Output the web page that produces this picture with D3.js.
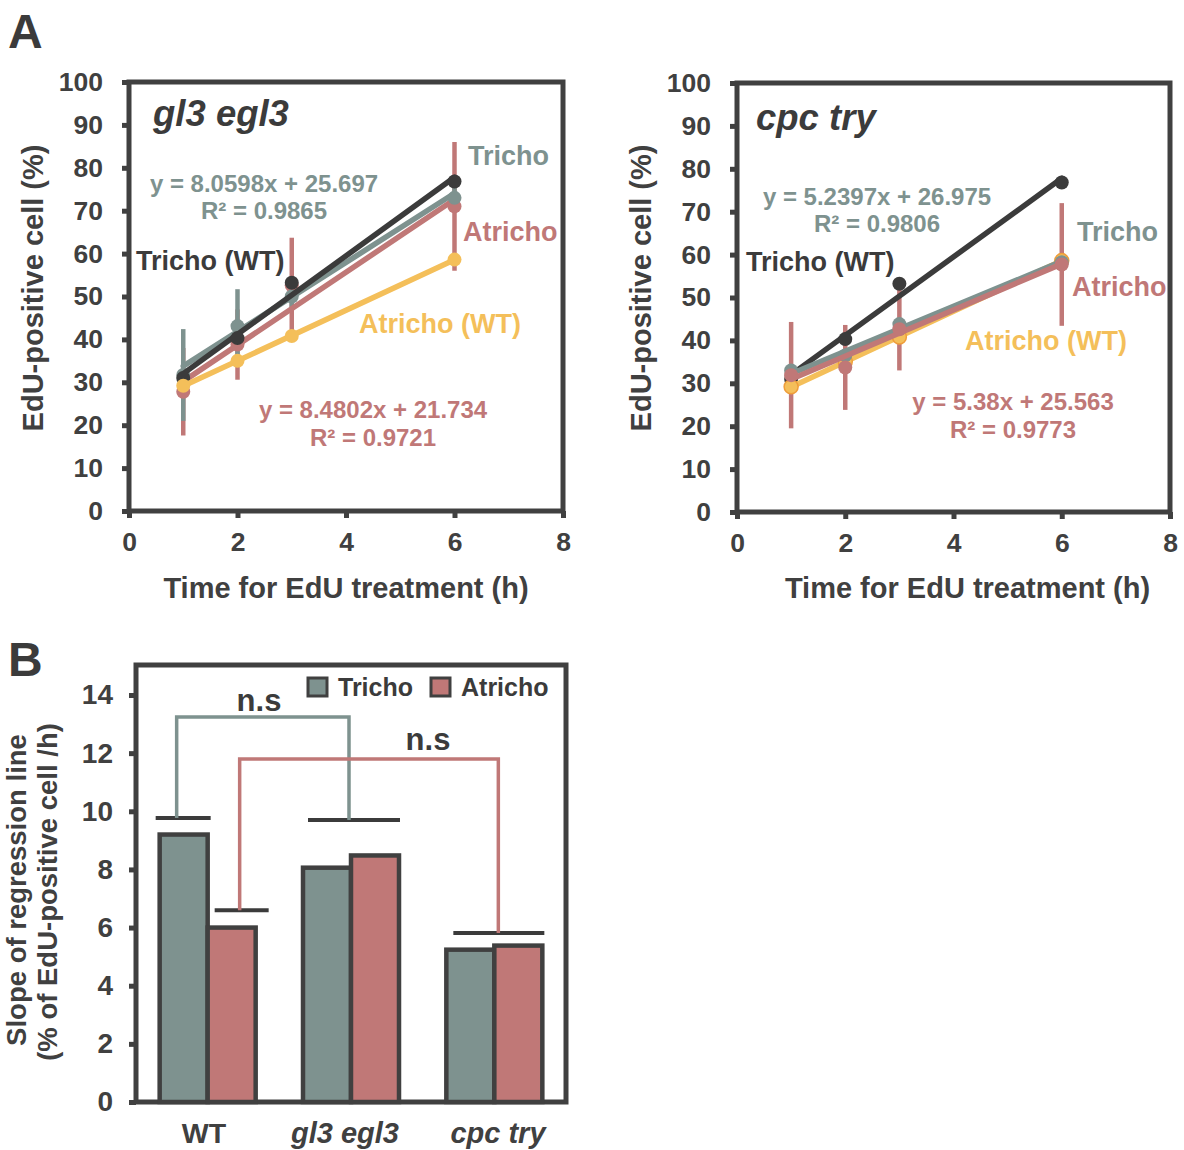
<html>
<head>
<script src="https://cdnjs.cloudflare.com/ajax/libs/d3/7.8.5/d3.min.js"></script>
<style>
  body { margin: 0; background: #fff; }
  text { font-family: "Liberation Sans", Arial, Helvetica, sans-serif; font-weight: bold; }
</style>
</head>
<body>
<svg id="fig" width="1184" height="1150"></svg>
<script>

	// ---- data ----
	var times = [1, 2, 3, 6]
	var wtTricho   = [31.0, 40.3, 53.2, 76.8]
	var wtAtricho  = [29.2, 35.0, 40.8, 58.6]

	var gl3Tricho     = [31.7, 43.1, 50.0, 73.0]
	var gl3TrichoErr  = [10.7, 8.6, 3.0, 3.0]
	var gl3Atricho    = [27.8, 38.8, 52.6, 71.0]
	var gl3AtrichoErr = [10.2, 8.2, 11.1, 15.0]

	var cpcTricho     = [33.0, 36.5, 43.8, 58.2]
	var cpcAtricho    = [31.9, 33.7, 42.6, 57.7]
	var cpcAtrichoErr = [12.4, 9.9, 9.6, 14.3]

	// printed regression equations [slope, intercept]
	var gl3TrichoFit  = [8.0598, 25.697]
	var gl3AtrichoFit = [8.4802, 21.734]
	var cpcTrichoFit  = [5.2397, 26.975]
	var cpcAtrichoFit = [5.38, 25.563]

	var xTicks = [0, 2, 4, 6, 8]
	var yTicks = [0, 10, 20, 30, 40, 50, 60, 70, 80, 90, 100]

	// panel B
	var genotypes = ["WT", "gl3 egl3", "cpc try"]
	var slopeTricho  = [9.2, 8.0598, 5.2397]
	var slopeAtricho = [6.0, 8.4802, 5.38]
	var capValues = [9.77, 6.6, 9.7, 5.81]   // WT-Tricho, WT-Atricho, gl3, cpc
	var bracketTops = [13.24, 11.8]
	var bTicks = [0, 2, 4, 6, 8, 10, 12, 14]

	var TEAL = "#7e928f", RED = "#c07877", YEL = "#f4bf5a", BLK = "#3b3b3b", AX = "#404040"

	var svg = d3.select("#fig")

	function linFit(xs, ys) {
		var mx = d3.mean(xs), my = d3.mean(ys)
		var num = d3.sum(xs, (x, i) => (x - mx) * (ys[i] - my))
		var den = d3.sum(xs, x => (x - mx) * (x - mx))
		var b = num / den
		return [b, my - b * mx]
	}

	function label(g, txt, x, y, color, size, anchor, italic) {
		return g.append("text").attr("x", x).attr("y", y).attr("fill", color)
			.attr("font-size", size).attr("text-anchor", anchor || "start")
			.attr("dominant-baseline", "central")
			.attr("font-style", italic ? "italic" : "normal").text(txt)
	}

	function styleAxis(a, size) {
		a.select(".domain").remove()
		a.selectAll("line").attr("stroke", AX).attr("stroke-width", 5)
		a.selectAll("text").attr("fill", AX).attr("font-size", size)
			.attr("font-family", "'Liberation Sans', Arial, sans-serif").attr("font-weight", "bold")
	}

	function panelA(cfg) {
		var g = svg.append("g")
		var x = d3.scaleLinear().domain([0, 8]).range([cfg.x0, cfg.x1])
		var y = d3.scaleLinear().domain([0, 100]).range([cfg.y0, cfg.y1])

		// frame
		g.append("rect").attr("x", cfg.x0).attr("y", cfg.y1)
			.attr("width", cfg.x1 - cfg.x0).attr("height", cfg.y0 - cfg.y1)
			.attr("fill", "none").attr("stroke", AX).attr("stroke-width", 5)

		var ya = g.append("g").attr("transform", "translate(" + cfg.x0 + ",0)")
			.call(d3.axisLeft(y).tickValues(yTicks).tickSize(7).tickPadding(19))
		var xa = g.append("g").attr("transform", "translate(0," + cfg.y0 + ")")
			.call(d3.axisBottom(x).tickValues(xTicks).tickSize(7).tickPadding(14))
		styleAxis(ya, 26.5)
		styleAxis(xa, 26.5)

		label(g, "Time for EdU treatment (h)", (cfg.x0 + cfg.x1) / 2 + cfg.tdx, 588, AX, 29, "middle")
		g.append("text").attr("transform", "translate(" + (cfg.x0 - 96) + "," + 288 + ") rotate(-90)")
			.attr("text-anchor", "middle").attr("dominant-baseline", "central")
			.attr("fill", AX).attr("font-size", 29).text("EdU-positive cell (%)")

		var series = cfg.series
		// error bars
		series.forEach(s => {
			if (!s.err) return
			g.selectAll(null).data(times).enter().append("line")
				.attr("x1", t => x(t)).attr("x2", t => x(t))
				.attr("y1", (t, i) => y(s.vals[i] - s.err[i]))
				.attr("y2", (t, i) => y(s.vals[i] + s.err[i]))
				.attr("stroke", s.color).attr("stroke-width", 4.5)
		})
		// regression lines + points
		series.forEach(s => {
			var f = s.fit || linFit(times, s.vals)
			g.append("line")
				.attr("x1", x(1)).attr("y1", y(f[0] * 1 + f[1]))
				.attr("x2", x(6)).attr("y2", y(f[0] * 6 + f[1]))
				.attr("stroke", s.color).attr("stroke-width", 5.5).attr("stroke-linecap", "round")
			g.selectAll(null).data(times).enter().append("circle")
				.attr("cx", t => x(t)).attr("cy", (t, i) => y(s.vals[i]))
				.attr("r", 7).attr("fill", s.color)
				.attr("stroke", s.ring || "none").attr("stroke-width", 1.5)
		})

		cfg.texts.forEach(t => label(g, t[0], t[1], t[2], t[3], t[4], t[5], t[6]))
	}

	panelA({
		x0: 129, x1: 563, y0: 511, y1: 82, tdx: 0,
		series: [
			{ vals: gl3Atricho, err: gl3AtrichoErr, color: RED, fit: gl3AtrichoFit },
			{ vals: gl3Tricho, err: gl3TrichoErr, color: TEAL, fit: gl3TrichoFit },
			{ vals: wtTricho, color: BLK },
			{ vals: wtAtricho, color: YEL }
		],
		texts: [
			["gl3 egl3", 153, 113, BLK, 36.5, "start", true],
			["Tricho", 468, 156, TEAL, 27],
			["y = 8.0598x + 25.697", 264, 183, TEAL, 24, "middle"],
			["R² = 0.9865", 264, 210, TEAL, 24, "middle"],
			["Tricho (WT)", 136, 261, BLK, 27],
			["Atricho", 463, 232, RED, 27],
			["Atricho (WT)", 359, 324, YEL, 27],
			["y = 8.4802x + 21.734", 373, 409, RED, 24, "middle"],
			["R² = 0.9721", 373, 437, RED, 24, "middle"]
		]
	})

	panelA({
		x0: 737, x1: 1170, y0: 512, y1: 83, tdx: 14,
		series: [
			{ vals: wtTricho, color: BLK },
			{ vals: wtAtricho, color: YEL, ring: "#ef9d3a" },
			{ vals: cpcTricho, color: TEAL, fit: cpcTrichoFit },
			{ vals: cpcAtricho, err: cpcAtrichoErr, color: RED, fit: cpcAtrichoFit }
		],
		texts: [
			["cpc try", 756, 117, BLK, 36.5, "start", true],
			["y = 5.2397x + 26.975", 877, 196, TEAL, 24, "middle"],
			["R² = 0.9806", 877, 223, TEAL, 24, "middle"],
			["Tricho (WT)", 746, 262, BLK, 27],
			["Tricho", 1077, 232, TEAL, 27],
			["Atricho", 1072, 287, RED, 27],
			["Atricho (WT)", 965, 341, YEL, 27],
			["y = 5.38x + 25.563", 1013, 401, RED, 24, "middle"],
			["R² = 0.9773", 1013, 429, RED, 24, "middle"]
		]
	})

	label(svg, "A", 8, 31, BLK, 48)
	label(svg, "B", 8, 659, BLK, 48)

	// ---- panel B ----
	var gB = svg.append("g")
	var bx0 = 136, bx1 = 566, by0 = 1102, by1 = 665
	var yB = d3.scaleLinear().domain([0, 14]).range([by0, 695])
	var xB = d3.scaleBand().domain(genotypes).range([bx0, bx1])
	var sub = d3.scaleBand().domain(["Tricho", "Atricho"]).range([-48, 48])

	gB.append("rect").attr("x", bx0).attr("y", by1).attr("width", bx1 - bx0).attr("height", by0 - by1)
		.attr("fill", "none").attr("stroke", AX).attr("stroke-width", 5)

	var yaB = gB.append("g").attr("transform", "translate(" + bx0 + ",0)")
		.call(d3.axisLeft(yB).tickValues(bTicks).tickSize(7).tickPadding(16))
	styleAxis(yaB, 28)

	function cx(gName) { return xB(gName) + xB.bandwidth() / 2 }

	var bars = []
	genotypes.forEach((gn, i) => {
		bars.push({ g: gn, s: "Tricho", v: slopeTricho[i], c: TEAL })
		bars.push({ g: gn, s: "Atricho", v: slopeAtricho[i], c: RED })
	})
	gB.selectAll(".bar").data(bars).enter().append("rect")
		.attr("x", d => cx(d.g) + sub(d.s)).attr("width", sub.bandwidth())
		.attr("y", d => yB(d.v)).attr("height", d => by0 - yB(d.v))
		.attr("fill", d => d.c).attr("stroke", AX).attr("stroke-width", 4.5)

	// caps
	var caps = [
		{ x1: cx("WT") + sub("Tricho") - 4, x2: cx("WT") + sub("Tricho") + 51, v: capValues[0] },
		{ x1: cx("WT") + sub("Atricho") + 7, x2: cx("WT") + sub("Atricho") + 61, v: capValues[1] },
		{ x1: cx("gl3 egl3") - 43, x2: cx("gl3 egl3") + 49, v: capValues[2] },
		{ x1: cx("cpc try") - 41, x2: cx("cpc try") + 50, v: capValues[3] }
	]
	gB.selectAll(".cap").data(caps).enter().append("line")
		.attr("x1", d => d.x1).attr("x2", d => d.x2)
		.attr("y1", d => yB(d.v)).attr("y2", d => yB(d.v))
		.attr("stroke", BLK).attr("stroke-width", 4)

	// significance brackets
	var brackets = [
		{ xa: cx("WT") - 31, va: capValues[0], xb: cx("gl3 egl3") - 2, vb: capValues[2], top: bracketTops[0], c: TEAL, lx: 259, ly: 700 },
		{ xa: cx("WT") + 32, va: capValues[1], xb: cx("cpc try") + 4, vb: capValues[3], top: bracketTops[1], c: RED, lx: 428, ly: 739 }
	]
	brackets.forEach(b => {
		gB.append("path")
			.attr("d", d3.line()([[b.xa, yB(b.va)], [b.xa, yB(b.top)], [b.xb, yB(b.top)], [b.xb, yB(b.vb)]]))
			.attr("fill", "none").attr("stroke", b.c).attr("stroke-width", 3.5)
		label(gB, "n.s", b.lx, b.ly, BLK, 31, "middle")
	})

	// legend
	var legend = [["Tricho", TEAL, 308], ["Atricho", RED, 431]]
	legend.forEach(l => {
		gB.append("rect").attr("x", l[2]).attr("y", 678).attr("width", 19).attr("height", 18)
			.attr("fill", l[1]).attr("stroke", AX).attr("stroke-width", 3)
		label(gB, l[0], l[2] + 30, 687, BLK, 25)
	})

	// x labels
	label(gB, "WT", 204, 1133, AX, 28.5, "middle", false)
	label(gB, "gl3 egl3", 345, 1133, AX, 29, "middle", true)
	label(gB, "cpc try", 498, 1133, AX, 29, "middle", true)

	gB.append("text").attr("transform", "translate(16,890) rotate(-90)")
		.attr("text-anchor", "middle").attr("dominant-baseline", "central")
		.attr("fill", AX).attr("font-size", 27.5).text("Slope of regression line")
	gB.append("text").attr("transform", "translate(47,892) rotate(-90)")
		.attr("text-anchor", "middle").attr("dominant-baseline", "central")
		.attr("fill", AX).attr("font-size", 27.5).text("(% of EdU-positive cell /h)")

</script>
</body>
</html>
